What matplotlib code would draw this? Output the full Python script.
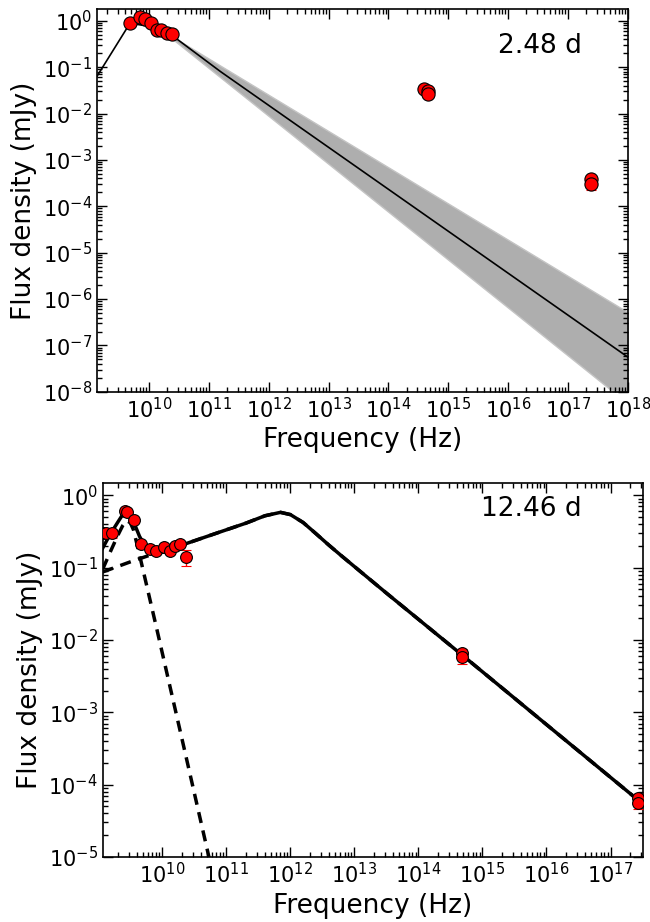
import matplotlib
matplotlib.use("Agg")
import matplotlib.pyplot as plt
import numpy as np

plt.rcParams['font.family'] = ['DejaVu Sans']
plt.rcParams['axes.unicode_minus'] = False

# ---- top panel (2.48 d) ----
top_radio_nu = [4.8e9, 7.0e9, 8.5e9, 1.06e10, 1.34e10, 1.56e10, 1.97e10, 2.45e10]
top_radio_f = [0.89, 1.24, 1.09, 0.92, 0.62, 0.62, 0.54, 0.51]
top_opt_nu = [3.85e14, 4.5e14, 4.5e14]
top_opt_f = [0.034, 0.031, 0.026]
top_x_nu = [2.4e17, 2.4e17]
top_x_f = [3.8e-4, 3.0e-4]
top_x_err = [0.6e-4, 0.8e-4]

top_model_nu = [1.34e9, 4.8e9, 1.0e10, 2.5e10, 1.55e11, 1.0e18]
top_model_f = [0.063, 0.89, 0.76, 0.47, 0.081, 5.6e-8]
band_nu = [2.5e10, 1.0e18]
band_hi = [0.45, 5.2e-7]
band_lo = [0.40, 5.6e-9]

# ---- bottom panel (12.46 d) ----
bot_radio_nu = [1.2e9, 1.33e9, 1.63e9, 2.6e9, 2.8e9, 3.6e9, 4.7e9, 6.3e9, 8.1e9,
                1.05e10, 1.3e10, 1.56e10, 1.86e10, 2.37e10]
bot_radio_f = [0.30, 0.30, 0.30, 0.61, 0.58, 0.46, 0.215, 0.18, 0.17,
               0.19, 0.17, 0.20, 0.215, 0.14]
bot_radio_err = [0.04, 0.04, 0.04, 0.03, 0.03, 0.03, 0.02, 0.015, 0.015,
                 0.015, 0.015, 0.015, 0.02, 0.035]
bot_opt_nu = [4.8e14, 4.8e14]
bot_opt_f = [6.6e-3, 5.9e-3]
bot_opt_err = [1.0e-3, 1.2e-3]
bot_x_nu = [2.7e17, 2.7e17]
bot_x_f = [6.6e-5, 5.6e-5]
bot_x_err = [0.9e-5, 1.0e-5]

# model curves
total_nu = [1.17e9, 1.5e9, 2.0e9, 2.4e9, 2.75e9, 3.1e9, 3.55e9, 4.4e9, 5.75e9, 8.0e9,
            1.15e10, 2.37e10, 7.9e10, 2.0e11, 4.0e11, 7.0e11, 1.0e12, 1.58e12,
            2.5e12, 4.0e12, 6.3e12, 3.2e13, 4.8e14, 3.2e17]
total_f = [0.186, 0.28, 0.42, 0.54, 0.59, 0.54, 0.43, 0.27, 0.178, 0.158,
           0.166, 0.215, 0.31, 0.41, 0.52, 0.58, 0.54, 0.42,
           0.295, 0.204, 0.145, 0.044, 6.2e-3, 5.4e-5]
comp_a_nu = [1.17e9, 1.58e9, 2.0e9, 2.4e9, 2.75e9, 3.16e9, 3.55e9, 4.47e9, 5.6e9,
             8.05e9, 2.0e10, 5.5e10]
comp_a_f = [0.095, 0.174, 0.275, 0.38, 0.447, 0.417, 0.33, 0.141, 0.060,
            0.0151, 4.5e-4, 8.9e-6]
comp_b_nu = [1.17e9, 3.16e9, 1.0e10, 2.37e10, 7.9e10, 2.0e11, 4.0e11, 7.0e11,
             1.0e12, 1.58e12, 2.5e12, 4.0e12, 6.3e12, 3.2e13, 4.8e14, 3.2e17]
comp_b_f = [0.087, 0.12, 0.17, 0.215, 0.31, 0.41, 0.52, 0.58, 0.54, 0.42,
            0.295, 0.204, 0.145, 0.044, 6.2e-3, 5.4e-5]

fig = plt.figure(figsize=(6.5, 9.22), dpi=100)

pt = dict(marker='o', ms=9.5, mfc='red', mec='black', mew=0.8, ls='none',
          ecolor='red', elinewidth=1, capsize=3.5, capthick=1, zorder=5)

def style(ax):
    ax.set_xscale('log')
    ax.set_yscale('log')
    ax.tick_params(which='both', direction='in', top=True, right=True, labelsize=15)
    ax.tick_params(which='major', length=7, width=1)
    ax.tick_params(which='minor', length=3.5, width=1)
    ax.set_xlabel('Frequency (Hz)', fontsize=19)
    ax.set_ylabel('Flux density (mJy)', fontsize=19)
    for s in ax.spines.values():
        s.set_linewidth(1.2)

# top
ax1 = fig.add_axes([0.149, 0.575, 0.817, 0.415])
style(ax1)
ax1.fill_between(band_nu, band_lo, band_hi, facecolor='#aeaeae', edgecolor='#c4c4c4',
                 lw=1, zorder=1)
ax1.plot(top_model_nu, top_model_f, color='black', lw=1.2, zorder=3)
ax1.errorbar(top_radio_nu, top_radio_f, **pt)
ax1.errorbar(top_opt_nu, top_opt_f, **pt)
ax1.errorbar(top_x_nu, top_x_f, yerr=top_x_err, **pt)
ax1.set_xlim(1.34e9, 1.0e18)
ax1.set_ylim(1e-8, 1.78)
ax1.text(0.913, 0.905, '2.48 d', transform=ax1.transAxes, fontsize=19, ha='right', va='center')

# bottom
ax2 = fig.add_axes([0.158, 0.0705, 0.831, 0.4055])
style(ax2)
pt2 = dict(pt, ms=8.5)
ax2.plot(comp_a_nu, comp_a_f, color='black', lw=2.5, ls=(0, (3.2, 2.2)), zorder=2)
ax2.plot(comp_b_nu, comp_b_f, color='black', lw=2.5, ls=(0, (3.2, 2.2)), zorder=2)
ax2.plot(total_nu, total_f, color='black', lw=2.5, zorder=3)
ax2.errorbar(bot_radio_nu, bot_radio_f, yerr=bot_radio_err, **pt2)
ax2.errorbar(bot_opt_nu, bot_opt_f, yerr=bot_opt_err, **pt2)
ax2.errorbar(bot_x_nu, bot_x_f, yerr=bot_x_err, **pt2)
ax2.set_xlim(1.17e9, 3.2e17)
ax2.set_ylim(1e-5, 1.47)
ax2.text(0.887, 0.93, '12.46 d', transform=ax2.transAxes, fontsize=19, ha='right', va='center')

fig.savefig('out.png', dpi=100)
